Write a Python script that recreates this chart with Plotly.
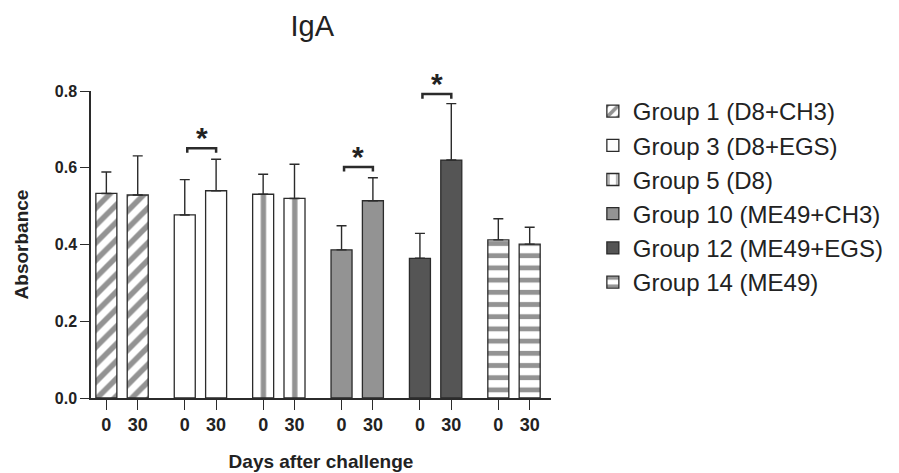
import plotly.graph_objects as go

groups = ["Group 1 (D8+CH3)", "Group 3 (D8+EGS)", "Group 5 (D8)",
          "Group 10 (ME49+CH3)", "Group 12 (ME49+EGS)", "Group 14 (ME49)"]
days = ["0", "30"]
means = [[0.533, 0.529], [0.477, 0.540], [0.531, 0.520],
         [0.386, 0.514], [0.364, 0.620], [0.412, 0.401]]
errors = [[0.056, 0.102], [0.092, 0.082], [0.052, 0.089],
          [0.063, 0.060], [0.065, 0.147], [0.055, 0.044]]
sig_groups = [1, 3, 4]
sig_heights = [0.651, 0.602, 0.792]
sig_labels = ["*", "*", "*"]
y_ticks = [0.0, 0.2, 0.4, 0.6, 0.8]

FONT = "Liberation Sans, Arial, Helvetica, sans-serif"
GRAY = "#939393"
DARK = "#555555"
EDGE = "#2b2b2b"

styles = [
    dict(color="white", pattern=dict(shape="/", fgcolor=GRAY, bgcolor="white", size=12.3, solidity=0.45, fillmode="replace")),
    dict(color="white"),
    dict(color="white", pattern=dict(shape="|", fgcolor=GRAY, bgcolor="white", size=31.35, solidity=0.17, fillmode="replace")),
    dict(color=GRAY),
    dict(color=DARK),
    dict(color="white", pattern=dict(shape="-", fgcolor=GRAY, bgcolor="white", size=12.2, solidity=0.4, fillmode="replace")),
]

GAP = 2.5
fig = go.Figure()
xpos_all, xtext_all = [], []
for g, name in enumerate(groups):
    xs = [g * GAP + i for i in range(len(days))]
    xpos_all += xs
    xtext_all += days
    m = dict(styles[g])
    m["line"] = dict(color=EDGE, width=1.3)
    fig.add_trace(go.Bar(
        x=xs, y=means[g], name=name, width=0.67, marker=m,
        error_y=dict(type="data", array=errors[g], arrayminus=[0] * len(days),
                     symmetric=False, color=EDGE, thickness=1.4, width=5),
    ))

for g, h, lab in zip(sig_groups, sig_heights, sig_labels):
    x0 = g * GAP + 0.08
    x1 = g * GAP + 1.0
    fig.add_shape(type="path",
                  path=f"M {x0},{h-0.012} L {x0},{h} L {x1},{h} L {x1},{h-0.012}",
                  xref="x", yref="y", line=dict(color=EDGE, width=2.5))
    fig.add_annotation(x=(x0 + x1) / 2, y=h, xref="x", yref="y", text=f"<b>{lab}</b>",
                       showarrow=False, yanchor="bottom", yshift=-8,
                       font=dict(family=FONT, size=30, color="#222"))

fig.update_layout(
    width=899, height=473,
    margin=dict(l=91, r=348, t=91, b=75, autoexpand=False),
    plot_bgcolor="white", paper_bgcolor="white",
    barmode="overlay",
    showlegend=True,
    font=dict(family=FONT, color="#222"),
    title=dict(text="IgA", x=0.481, xref="paper", xanchor="center",
               y=1 - 26 / 473, yref="container", yanchor="middle",
               font=dict(family=FONT, size=29, color="#222")),
    legend=dict(x=1.091, y=1.0065, xanchor="left", yanchor="top",
                font=dict(family=FONT, size=24, color="#222"),
                bgcolor="rgba(0,0,0,0)", traceorder="normal"),
)
fig.update_xaxes(range=[-0.49, 14.18], tickvals=xpos_all, ticktext=xtext_all,
                 ticks="outside", ticklen=10, tickwidth=1.4, tickcolor=EDGE, automargin=False,
                 showline=True, linecolor=EDGE, linewidth=1.5, showgrid=False, zeroline=False,
                 tickfont=dict(family=FONT, size=18, weight="bold", color="#222"),
                 title=dict(text="Days after challenge", standoff=20,
                            font=dict(family=FONT, size=19, weight="bold", color="#222")))
fig.update_yaxes(range=[0, 0.8], tickvals=y_ticks, tickformat=".1f",
                 ticks="outside", ticklen=9, tickwidth=1.4, tickcolor=EDGE, automargin=False,
                 showline=True, linecolor=EDGE, linewidth=1.5, showgrid=False, zeroline=False,
                 tickfont=dict(family=FONT, size=16, weight="bold", color="#222"),
                 title=dict(text="Absorbance", standoff=21,
                            font=dict(family=FONT, size=19, weight="bold", color="#222")))

fig.write_html("out.html", config={"displayModeBar": False},
               post_script="document.body.style.margin='0';document.body.style.overflow='hidden';")
